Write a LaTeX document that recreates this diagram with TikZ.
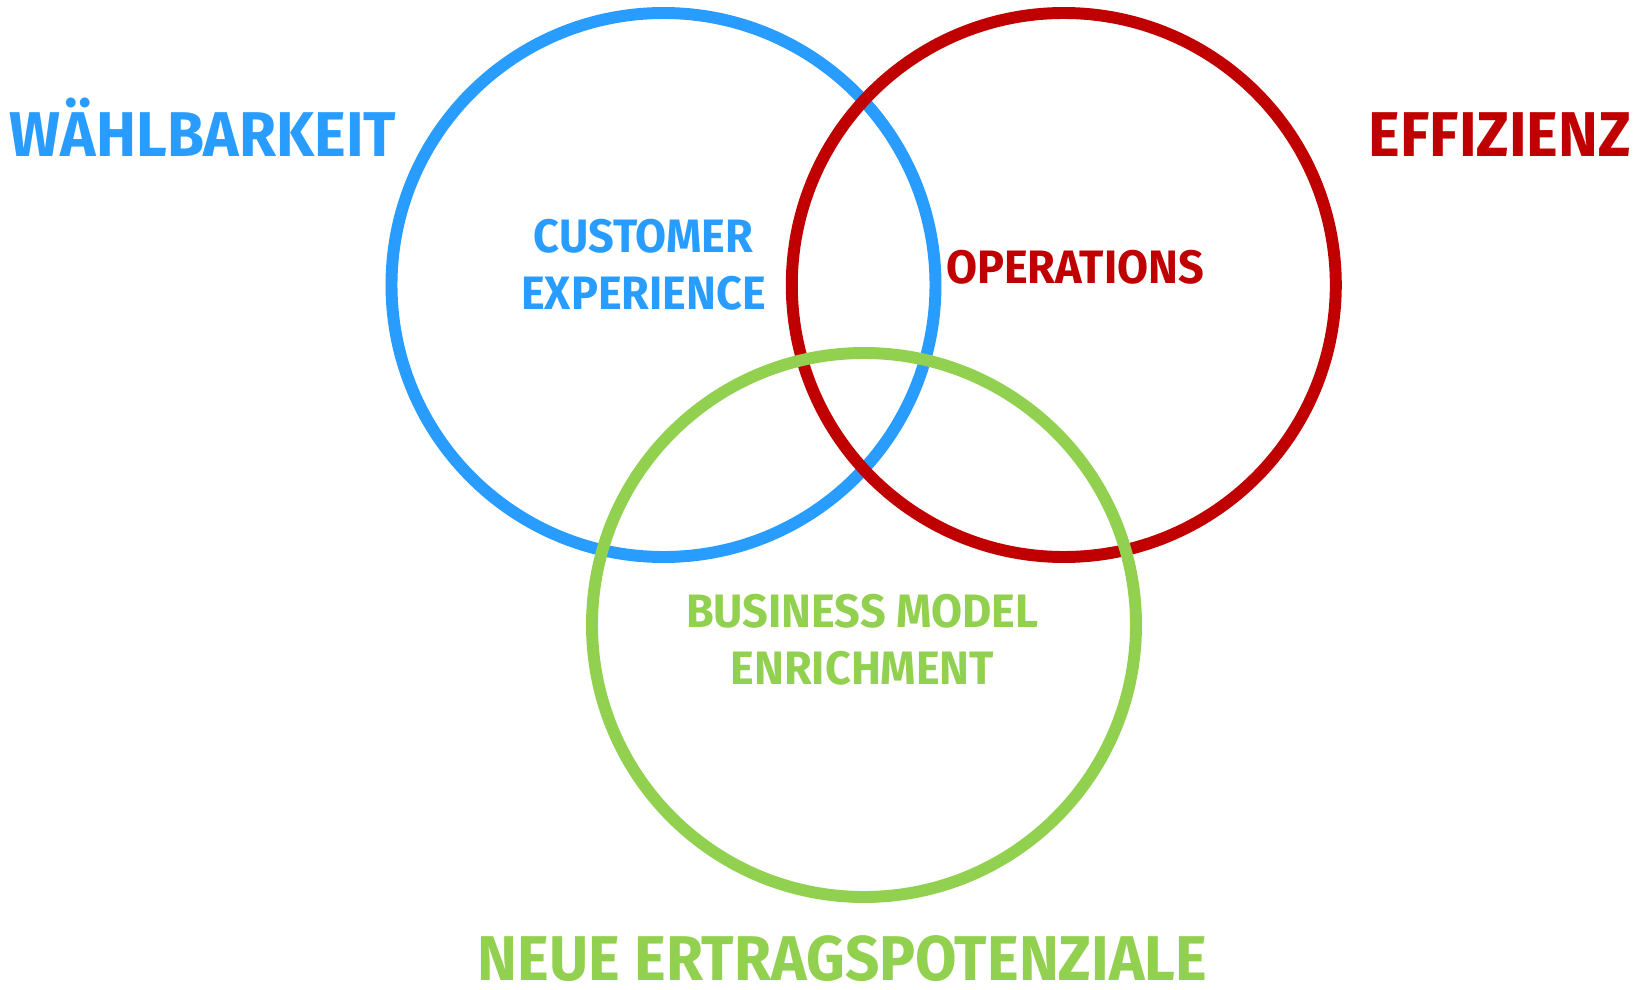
\documentclass[tikz,border=0pt]{standalone}
\usepackage{fontspec}
\setmainfont{Fira Sans}
\newfontfamily\bigfont{Fira Sans}[FakeStretch=0.95]
\newfontfamily\smallfont{Fira Sans}[FakeStretch=0.96]
\usepackage{xcolor}
\definecolor{cblue}{RGB}{41,157,255}
\definecolor{cred}{RGB}{192,0,0}
\definecolor{cgreen}{RGB}{146,208,80}

\tikzset{
    ring/.style={line width=10.2pt},
    big/.style={font=\bigfont\fontsize{54}{60}\selectfont\bfseries, inner sep=0pt, anchor=base},
    small/.style={font=\smallfont\fontsize{40}{49}\selectfont\bfseries, inner sep=0pt, align=center}
}

\begin{document}
\begin{tikzpicture}[x=0.03cm, y=-0.03cm]
    \useasboundingbox (0,0) rectangle (1641,990);
    % the three rings, later ones on top
    \foreach \c/\x/\y in {cblue/663.5/285, cred/1063.8/285, cgreen/864/625}
        \draw[ring, \c] (\x,\y) circle (272);
    % outer labels
    \node[big, cblue] (choice) at (203,157) {WÄHLBARKEIT};
    \node[big, cred] (efficiency) at (1500,157) {EFFIZIENZ};
    \node[big, cgreen] (revenue) at (842.5,980) {NEUE ERTRAGSPOTENZIALE};
    % inner labels
    \node[small, cblue] (cx) at (643.5,265) {CUSTOMER\\EXPERIENCE};
    \node[small, cred] (ops) at (1075,267) {OPERATIONS};
    \node[small, cgreen] (bme) at (862.4,640) {BUSINESS MODEL\\ENRICHMENT};
\end{tikzpicture}
\end{document}
